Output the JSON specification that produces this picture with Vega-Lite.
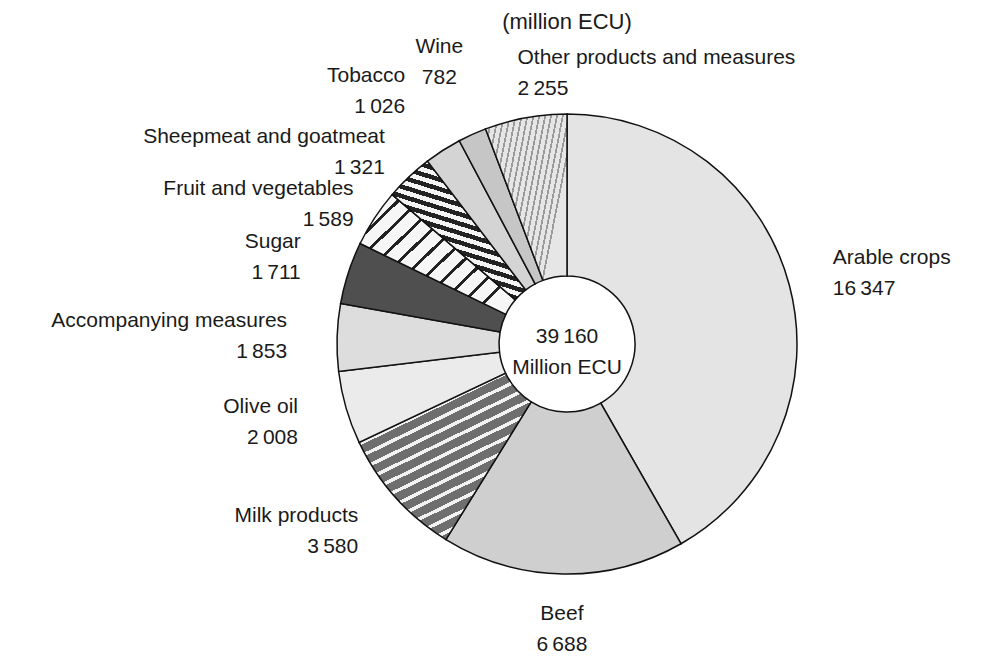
{
  "$schema": "https://vega.github.io/schema/vega-lite/v6.json",
  "width": 878,
  "height": 646,
  "autosize": {"type": "none"},
  "padding": {"left": 128, "top": 21, "right": 0, "bottom": 0},
  "background": "white",
  "config": {
    "view": {"stroke": null},
    "locale": {"number": {"decimal": ".", "thousands": "\u2009", "grouping": [3], "currency": ["", ""]}},
    "text": {"font": "Liberation Sans", "fontSize": 21, "color": "#1a1a1a"}
  },
  "title": {"text": "(million ECU)", "font": "Liberation Sans", "fontSize": 22, "fontWeight": "normal", "color": "#1a1a1a", "anchor": "middle", "frame": "group", "offset": -21},
  "data": {
    "values": [
      {"name": "Arable crops", "value": 16347, "order": 1},
      {"name": "Beef", "value": 6688, "order": 2},
      {"name": "Milk products", "value": 3580, "order": 3},
      {"name": "Olive oil", "value": 2008, "order": 4},
      {"name": "Accompanying measures", "value": 1853, "order": 5},
      {"name": "Sugar", "value": 1711, "order": 6},
      {"name": "Fruit and vegetables", "value": 1589, "order": 7},
      {"name": "Sheepmeat and goatmeat", "value": 1321, "order": 8},
      {"name": "Tobacco", "value": 1026, "order": 9},
      {"name": "Wine", "value": 782, "order": 10},
      {"name": "Other products and measures", "value": 2255, "order": 11}
    ]
  },
  "layer": [
    {
      "mark": {"type": "arc", "outerRadius": 230, "innerRadius": 68, "stroke": "#111111", "strokeWidth": 1.5},
      "encoding": {
        "theta": {"field": "value", "type": "quantitative", "stack": true},
        "order": {"field": "order", "type": "quantitative"},
        "color": {
          "condition": [
            {"test": "datum.name == 'Milk products'", "value": {"gradient": "linear", "x1": 0.25, "y1": 0, "x2": 0.75, "y2": 1, "stops": [
              {"offset": 0, "color": "#6e6e6e"}, {"offset": 0.044, "color": "#6e6e6e"}, {"offset": 0.044, "color": "#f2f2f2"}, {"offset": 0.0625, "color": "#f2f2f2"},
              {"offset": 0.0625, "color": "#6e6e6e"}, {"offset": 0.1065, "color": "#6e6e6e"}, {"offset": 0.1065, "color": "#f2f2f2"}, {"offset": 0.125, "color": "#f2f2f2"},
              {"offset": 0.125, "color": "#6e6e6e"}, {"offset": 0.169, "color": "#6e6e6e"}, {"offset": 0.169, "color": "#f2f2f2"}, {"offset": 0.1875, "color": "#f2f2f2"},
              {"offset": 0.1875, "color": "#6e6e6e"}, {"offset": 0.2315, "color": "#6e6e6e"}, {"offset": 0.2315, "color": "#f2f2f2"}, {"offset": 0.25, "color": "#f2f2f2"},
              {"offset": 0.25, "color": "#6e6e6e"}, {"offset": 0.294, "color": "#6e6e6e"}, {"offset": 0.294, "color": "#f2f2f2"}, {"offset": 0.3125, "color": "#f2f2f2"},
              {"offset": 0.3125, "color": "#6e6e6e"}, {"offset": 0.3565, "color": "#6e6e6e"}, {"offset": 0.3565, "color": "#f2f2f2"}, {"offset": 0.375, "color": "#f2f2f2"},
              {"offset": 0.375, "color": "#6e6e6e"}, {"offset": 0.419, "color": "#6e6e6e"}, {"offset": 0.419, "color": "#f2f2f2"}, {"offset": 0.4375, "color": "#f2f2f2"},
              {"offset": 0.4375, "color": "#6e6e6e"}, {"offset": 0.4815, "color": "#6e6e6e"}, {"offset": 0.4815, "color": "#f2f2f2"}, {"offset": 0.5, "color": "#f2f2f2"},
              {"offset": 0.5, "color": "#6e6e6e"}, {"offset": 0.544, "color": "#6e6e6e"}, {"offset": 0.544, "color": "#f2f2f2"}, {"offset": 0.5625, "color": "#f2f2f2"},
              {"offset": 0.5625, "color": "#6e6e6e"}, {"offset": 0.6065, "color": "#6e6e6e"}, {"offset": 0.6065, "color": "#f2f2f2"}, {"offset": 0.625, "color": "#f2f2f2"},
              {"offset": 0.625, "color": "#6e6e6e"}, {"offset": 0.669, "color": "#6e6e6e"}, {"offset": 0.669, "color": "#f2f2f2"}, {"offset": 0.6875, "color": "#f2f2f2"},
              {"offset": 0.6875, "color": "#6e6e6e"}, {"offset": 0.7315, "color": "#6e6e6e"}, {"offset": 0.7315, "color": "#f2f2f2"}, {"offset": 0.75, "color": "#f2f2f2"},
              {"offset": 0.75, "color": "#6e6e6e"}, {"offset": 0.794, "color": "#6e6e6e"}, {"offset": 0.794, "color": "#f2f2f2"}, {"offset": 0.8125, "color": "#f2f2f2"},
              {"offset": 0.8125, "color": "#6e6e6e"}, {"offset": 0.8565, "color": "#6e6e6e"}, {"offset": 0.8565, "color": "#f2f2f2"}, {"offset": 0.875, "color": "#f2f2f2"},
              {"offset": 0.875, "color": "#6e6e6e"}, {"offset": 0.919, "color": "#6e6e6e"}, {"offset": 0.919, "color": "#f2f2f2"}, {"offset": 0.9375, "color": "#f2f2f2"},
              {"offset": 0.9375, "color": "#6e6e6e"}, {"offset": 0.9815, "color": "#6e6e6e"}, {"offset": 0.9815, "color": "#f2f2f2"}, {"offset": 1, "color": "#f2f2f2"}
            ]}},
            {"test": "datum.name == 'Sheepmeat and goatmeat'", "value": {"gradient": "linear", "x1": 0.65, "y1": 0, "x2": 0.35, "y2": 1, "stops": [
              {"offset": 0, "color": "#222222"}, {"offset": 0.031, "color": "#222222"}, {"offset": 0.031, "color": "#f4f4f4"}, {"offset": 0.0625, "color": "#f4f4f4"},
              {"offset": 0.0625, "color": "#222222"}, {"offset": 0.0935, "color": "#222222"}, {"offset": 0.0935, "color": "#f4f4f4"}, {"offset": 0.125, "color": "#f4f4f4"},
              {"offset": 0.125, "color": "#222222"}, {"offset": 0.156, "color": "#222222"}, {"offset": 0.156, "color": "#f4f4f4"}, {"offset": 0.1875, "color": "#f4f4f4"},
              {"offset": 0.1875, "color": "#222222"}, {"offset": 0.2185, "color": "#222222"}, {"offset": 0.2185, "color": "#f4f4f4"}, {"offset": 0.25, "color": "#f4f4f4"},
              {"offset": 0.25, "color": "#222222"}, {"offset": 0.281, "color": "#222222"}, {"offset": 0.281, "color": "#f4f4f4"}, {"offset": 0.3125, "color": "#f4f4f4"},
              {"offset": 0.3125, "color": "#222222"}, {"offset": 0.3435, "color": "#222222"}, {"offset": 0.3435, "color": "#f4f4f4"}, {"offset": 0.375, "color": "#f4f4f4"},
              {"offset": 0.375, "color": "#222222"}, {"offset": 0.406, "color": "#222222"}, {"offset": 0.406, "color": "#f4f4f4"}, {"offset": 0.4375, "color": "#f4f4f4"},
              {"offset": 0.4375, "color": "#222222"}, {"offset": 0.4685, "color": "#222222"}, {"offset": 0.4685, "color": "#f4f4f4"}, {"offset": 0.5, "color": "#f4f4f4"},
              {"offset": 0.5, "color": "#222222"}, {"offset": 0.531, "color": "#222222"}, {"offset": 0.531, "color": "#f4f4f4"}, {"offset": 0.5625, "color": "#f4f4f4"},
              {"offset": 0.5625, "color": "#222222"}, {"offset": 0.5935, "color": "#222222"}, {"offset": 0.5935, "color": "#f4f4f4"}, {"offset": 0.625, "color": "#f4f4f4"},
              {"offset": 0.625, "color": "#222222"}, {"offset": 0.656, "color": "#222222"}, {"offset": 0.656, "color": "#f4f4f4"}, {"offset": 0.6875, "color": "#f4f4f4"},
              {"offset": 0.6875, "color": "#222222"}, {"offset": 0.7185, "color": "#222222"}, {"offset": 0.7185, "color": "#f4f4f4"}, {"offset": 0.75, "color": "#f4f4f4"},
              {"offset": 0.75, "color": "#222222"}, {"offset": 0.781, "color": "#222222"}, {"offset": 0.781, "color": "#f4f4f4"}, {"offset": 0.8125, "color": "#f4f4f4"},
              {"offset": 0.8125, "color": "#222222"}, {"offset": 0.8435, "color": "#222222"}, {"offset": 0.8435, "color": "#f4f4f4"}, {"offset": 0.875, "color": "#f4f4f4"},
              {"offset": 0.875, "color": "#222222"}, {"offset": 0.906, "color": "#222222"}, {"offset": 0.906, "color": "#f4f4f4"}, {"offset": 0.9375, "color": "#f4f4f4"},
              {"offset": 0.9375, "color": "#222222"}, {"offset": 0.9685, "color": "#222222"}, {"offset": 0.9685, "color": "#f4f4f4"}, {"offset": 1, "color": "#f4f4f4"}
            ]}},
            {"test": "datum.name == 'Fruit and vegetables'", "value": {"gradient": "linear", "x1": 0, "y1": 0, "x2": 1, "y2": 0.8, "stops": [
              {"offset": 0, "color": "#222222"}, {"offset": 0.017, "color": "#222222"}, {"offset": 0.017, "color": "#f6f6f6"}, {"offset": 0.0833, "color": "#f6f6f6"},
              {"offset": 0.0833, "color": "#222222"}, {"offset": 0.1003, "color": "#222222"}, {"offset": 0.1003, "color": "#f6f6f6"}, {"offset": 0.1667, "color": "#f6f6f6"},
              {"offset": 0.1667, "color": "#222222"}, {"offset": 0.1837, "color": "#222222"}, {"offset": 0.1837, "color": "#f6f6f6"}, {"offset": 0.25, "color": "#f6f6f6"},
              {"offset": 0.25, "color": "#222222"}, {"offset": 0.267, "color": "#222222"}, {"offset": 0.267, "color": "#f6f6f6"}, {"offset": 0.3333, "color": "#f6f6f6"},
              {"offset": 0.3333, "color": "#222222"}, {"offset": 0.3503, "color": "#222222"}, {"offset": 0.3503, "color": "#f6f6f6"}, {"offset": 0.4167, "color": "#f6f6f6"},
              {"offset": 0.4167, "color": "#222222"}, {"offset": 0.4337, "color": "#222222"}, {"offset": 0.4337, "color": "#f6f6f6"}, {"offset": 0.5, "color": "#f6f6f6"},
              {"offset": 0.5, "color": "#222222"}, {"offset": 0.517, "color": "#222222"}, {"offset": 0.517, "color": "#f6f6f6"}, {"offset": 0.5833, "color": "#f6f6f6"},
              {"offset": 0.5833, "color": "#222222"}, {"offset": 0.6003, "color": "#222222"}, {"offset": 0.6003, "color": "#f6f6f6"}, {"offset": 0.6667, "color": "#f6f6f6"},
              {"offset": 0.6667, "color": "#222222"}, {"offset": 0.6837, "color": "#222222"}, {"offset": 0.6837, "color": "#f6f6f6"}, {"offset": 0.75, "color": "#f6f6f6"},
              {"offset": 0.75, "color": "#222222"}, {"offset": 0.767, "color": "#222222"}, {"offset": 0.767, "color": "#f6f6f6"}, {"offset": 0.8333, "color": "#f6f6f6"},
              {"offset": 0.8333, "color": "#222222"}, {"offset": 0.8503, "color": "#222222"}, {"offset": 0.8503, "color": "#f6f6f6"}, {"offset": 0.9167, "color": "#f6f6f6"},
              {"offset": 0.9167, "color": "#222222"}, {"offset": 0.9337, "color": "#222222"}, {"offset": 0.9337, "color": "#f6f6f6"}, {"offset": 1, "color": "#f6f6f6"}
            ]}},
            {"test": "datum.name == 'Other products and measures'", "value": {"gradient": "linear", "x1": 0, "y1": 0, "x2": 1, "y2": 0.4, "stops": [
              {"offset": 0, "color": "#9a9a9a"}, {"offset": 0.019, "color": "#9a9a9a"}, {"offset": 0.019, "color": "#e6e6e6"}, {"offset": 0.0625, "color": "#e6e6e6"},
              {"offset": 0.0625, "color": "#9a9a9a"}, {"offset": 0.0815, "color": "#9a9a9a"}, {"offset": 0.0815, "color": "#e6e6e6"}, {"offset": 0.125, "color": "#e6e6e6"},
              {"offset": 0.125, "color": "#9a9a9a"}, {"offset": 0.144, "color": "#9a9a9a"}, {"offset": 0.144, "color": "#e6e6e6"}, {"offset": 0.1875, "color": "#e6e6e6"},
              {"offset": 0.1875, "color": "#9a9a9a"}, {"offset": 0.2065, "color": "#9a9a9a"}, {"offset": 0.2065, "color": "#e6e6e6"}, {"offset": 0.25, "color": "#e6e6e6"},
              {"offset": 0.25, "color": "#9a9a9a"}, {"offset": 0.269, "color": "#9a9a9a"}, {"offset": 0.269, "color": "#e6e6e6"}, {"offset": 0.3125, "color": "#e6e6e6"},
              {"offset": 0.3125, "color": "#9a9a9a"}, {"offset": 0.3315, "color": "#9a9a9a"}, {"offset": 0.3315, "color": "#e6e6e6"}, {"offset": 0.375, "color": "#e6e6e6"},
              {"offset": 0.375, "color": "#9a9a9a"}, {"offset": 0.394, "color": "#9a9a9a"}, {"offset": 0.394, "color": "#e6e6e6"}, {"offset": 0.4375, "color": "#e6e6e6"},
              {"offset": 0.4375, "color": "#9a9a9a"}, {"offset": 0.4565, "color": "#9a9a9a"}, {"offset": 0.4565, "color": "#e6e6e6"}, {"offset": 0.5, "color": "#e6e6e6"},
              {"offset": 0.5, "color": "#9a9a9a"}, {"offset": 0.519, "color": "#9a9a9a"}, {"offset": 0.519, "color": "#e6e6e6"}, {"offset": 0.5625, "color": "#e6e6e6"},
              {"offset": 0.5625, "color": "#9a9a9a"}, {"offset": 0.5815, "color": "#9a9a9a"}, {"offset": 0.5815, "color": "#e6e6e6"}, {"offset": 0.625, "color": "#e6e6e6"},
              {"offset": 0.625, "color": "#9a9a9a"}, {"offset": 0.644, "color": "#9a9a9a"}, {"offset": 0.644, "color": "#e6e6e6"}, {"offset": 0.6875, "color": "#e6e6e6"},
              {"offset": 0.6875, "color": "#9a9a9a"}, {"offset": 0.7065, "color": "#9a9a9a"}, {"offset": 0.7065, "color": "#e6e6e6"}, {"offset": 0.75, "color": "#e6e6e6"},
              {"offset": 0.75, "color": "#9a9a9a"}, {"offset": 0.769, "color": "#9a9a9a"}, {"offset": 0.769, "color": "#e6e6e6"}, {"offset": 0.8125, "color": "#e6e6e6"},
              {"offset": 0.8125, "color": "#9a9a9a"}, {"offset": 0.8315, "color": "#9a9a9a"}, {"offset": 0.8315, "color": "#e6e6e6"}, {"offset": 0.875, "color": "#e6e6e6"},
              {"offset": 0.875, "color": "#9a9a9a"}, {"offset": 0.894, "color": "#9a9a9a"}, {"offset": 0.894, "color": "#e6e6e6"}, {"offset": 0.9375, "color": "#e6e6e6"},
              {"offset": 0.9375, "color": "#9a9a9a"}, {"offset": 0.9565, "color": "#9a9a9a"}, {"offset": 0.9565, "color": "#e6e6e6"}, {"offset": 1, "color": "#e6e6e6"}
            ]}}
          ],
          "field": "name", "type": "nominal", "legend": null,
          "scale": {
            "domain": ["Arable crops", "Beef", "Milk products", "Olive oil", "Accompanying measures", "Sugar", "Fruit and vegetables", "Sheepmeat and goatmeat", "Tobacco", "Wine", "Other products and measures"],
            "range": ["#e4e4e4", "#cfcfcf", "#8c8c8c", "#ebebeb", "#dddddd", "#4f4f4f", "#c4c4c4", "#7a7a7a", "#d4d4d4", "#c6c6c6", "#cbcbcb"]
          }
        }
      }
    },
    {
      "mark": {"type": "text", "radius": 280, "align": "right", "baseline": "middle", "dy": -15},
      "encoding": {
        "theta": {"field": "value", "type": "quantitative", "stack": true},
        "order": {"field": "order", "type": "quantitative"},
        "text": {"condition": {"test": "indexof(['Milk products','Olive oil','Accompanying measures','Sugar'], datum.name) >= 0", "field": "name", "type": "nominal"}, "value": ""}
      }
    },
    {
      "mark": {"type": "text", "radius": 280, "align": "right", "baseline": "middle", "dy": 16},
      "encoding": {
        "theta": {"field": "value", "type": "quantitative", "stack": true},
        "order": {"field": "order", "type": "quantitative"},
        "text": {"condition": {"test": "indexof(['Milk products','Olive oil','Accompanying measures','Sugar'], datum.name) >= 0", "field": "value", "type": "quantitative", "format": ",d"}, "value": ""}
      }
    },
    {
      "mark": {"type": "text", "radius": 255, "align": "right", "baseline": "middle", "dy": -15},
      "encoding": {
        "theta": {"field": "value", "type": "quantitative", "stack": true},
        "order": {"field": "order", "type": "quantitative"},
        "text": {"condition": {"test": "datum.name == 'Fruit and vegetables'", "field": "name", "type": "nominal"}, "value": ""}
      }
    },
    {
      "mark": {"type": "text", "radius": 255, "align": "right", "baseline": "middle", "dy": 16},
      "encoding": {
        "theta": {"field": "value", "type": "quantitative", "stack": true},
        "order": {"field": "order", "type": "quantitative"},
        "text": {"condition": {"test": "datum.name == 'Fruit and vegetables'", "field": "value", "type": "quantitative", "format": ",d"}, "value": ""}
      }
    },
    {
      "mark": {"type": "text", "radius": 265, "align": "right", "baseline": "middle", "dy": -15},
      "encoding": {
        "theta": {"field": "value", "type": "quantitative", "stack": true},
        "order": {"field": "order", "type": "quantitative"},
        "text": {"condition": {"test": "datum.name == 'Sheepmeat and goatmeat'", "field": "name", "type": "nominal"}, "value": ""}
      }
    },
    {
      "mark": {"type": "text", "radius": 265, "align": "right", "baseline": "middle", "dy": 16},
      "encoding": {
        "theta": {"field": "value", "type": "quantitative", "stack": true},
        "order": {"field": "order", "type": "quantitative"},
        "text": {"condition": {"test": "datum.name == 'Sheepmeat and goatmeat'", "field": "value", "type": "quantitative", "format": ",d"}, "value": ""}
      }
    },
    {
      "mark": {"type": "text", "radius": 300, "align": "right", "baseline": "middle", "dy": -15},
      "encoding": {
        "theta": {"field": "value", "type": "quantitative", "stack": true},
        "order": {"field": "order", "type": "quantitative"},
        "text": {"condition": {"test": "datum.name == 'Tobacco'", "field": "name", "type": "nominal"}, "value": ""}
      }
    },
    {
      "mark": {"type": "text", "radius": 300, "align": "right", "baseline": "middle", "dy": 16},
      "encoding": {
        "theta": {"field": "value", "type": "quantitative", "stack": true},
        "order": {"field": "order", "type": "quantitative"},
        "text": {"condition": {"test": "datum.name == 'Tobacco'", "field": "value", "type": "quantitative", "format": ",d"}, "value": ""}
      }
    },
    {
      "mark": {"type": "text", "radius": 310, "align": "center", "baseline": "middle", "dy": -15},
      "encoding": {
        "theta": {"field": "value", "type": "quantitative", "stack": true},
        "order": {"field": "order", "type": "quantitative"},
        "text": {"condition": {"test": "datum.name == 'Wine'", "field": "name", "type": "nominal"}, "value": ""}
      }
    },
    {
      "mark": {"type": "text", "radius": 310, "align": "center", "baseline": "middle", "dy": 16},
      "encoding": {
        "theta": {"field": "value", "type": "quantitative", "stack": true},
        "order": {"field": "order", "type": "quantitative"},
        "text": {"condition": {"test": "datum.name == 'Wine'", "field": "value", "type": "quantitative", "format": ",d"}, "value": ""}
      }
    },
    {
      "mark": {"type": "text", "radius": 275, "align": "left", "baseline": "middle", "dy": -15},
      "encoding": {
        "theta": {"field": "value", "type": "quantitative", "stack": true},
        "order": {"field": "order", "type": "quantitative"},
        "text": {"condition": {"test": "indexof(['Arable crops','Other products and measures'], datum.name) >= 0", "field": "name", "type": "nominal"}, "value": ""}
      }
    },
    {
      "mark": {"type": "text", "radius": 275, "align": "left", "baseline": "middle", "dy": 16},
      "encoding": {
        "theta": {"field": "value", "type": "quantitative", "stack": true},
        "order": {"field": "order", "type": "quantitative"},
        "text": {"condition": {"test": "indexof(['Arable crops','Other products and measures'], datum.name) >= 0", "field": "value", "type": "quantitative", "format": ",d"}, "value": ""}
      }
    },
    {
      "mark": {"type": "text", "radius": 285, "align": "center", "baseline": "middle", "dy": -15},
      "encoding": {
        "theta": {"field": "value", "type": "quantitative", "stack": true},
        "order": {"field": "order", "type": "quantitative"},
        "text": {"condition": {"test": "datum.name == 'Beef'", "field": "name", "type": "nominal"}, "value": ""}
      }
    },
    {
      "mark": {"type": "text", "radius": 285, "align": "center", "baseline": "middle", "dy": 16},
      "encoding": {
        "theta": {"field": "value", "type": "quantitative", "stack": true},
        "order": {"field": "order", "type": "quantitative"},
        "text": {"condition": {"test": "datum.name == 'Beef'", "field": "value", "type": "quantitative", "format": ",d"}, "value": ""}
      }
    },
    {
      "transform": [{"aggregate": [{"op": "sum", "field": "value", "as": "total"}]}],
      "mark": {"type": "text", "align": "center", "baseline": "middle", "dy": -7},
      "encoding": {"text": {"field": "total", "type": "quantitative", "format": ",d"}}
    },
    {
      "transform": [{"aggregate": [{"op": "sum", "field": "value", "as": "total"}]}],
      "mark": {"type": "text", "align": "center", "baseline": "middle", "dy": 24},
      "encoding": {"text": {"value": "Million ECU"}}
    }
  ]
}
